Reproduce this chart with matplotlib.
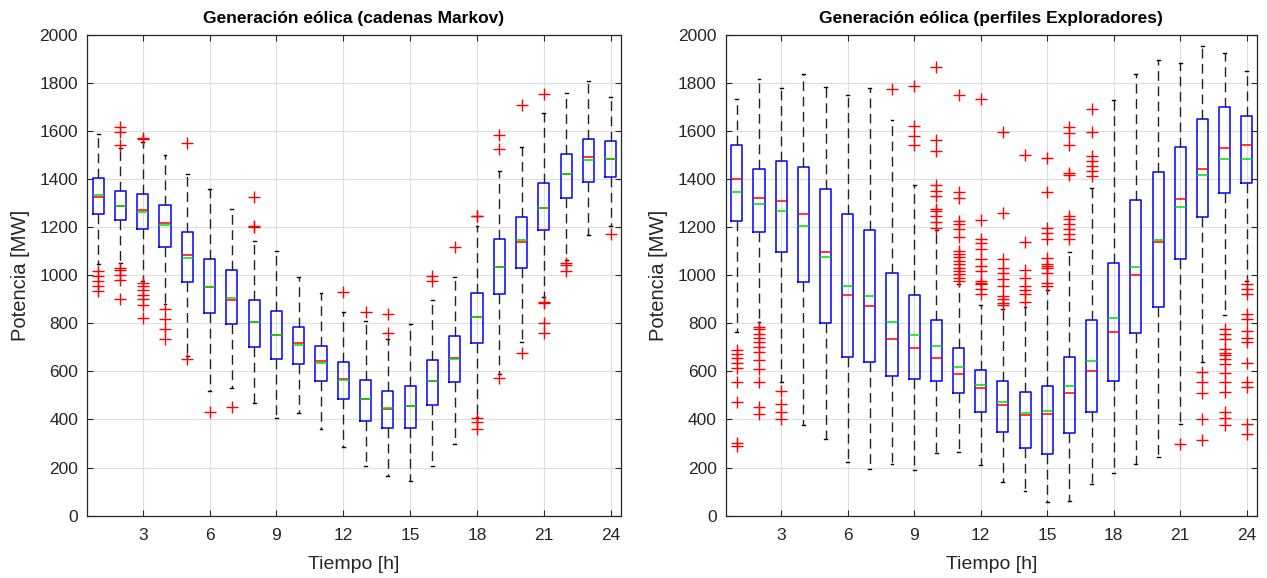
import matplotlib
matplotlib.use("Agg")
import matplotlib.pyplot as plt

plt.rcParams['font.family'] = ['Liberation Sans', 'DejaVu Sans']

hours = list(range(1, 25))
xticks = [3, 6, 9, 12, 15, 18, 21, 24]
yticks = list(range(0, 2001, 200))

# --- Cadenas de Markov ---
mk_q1 = [1253, 1229, 1193, 1117, 972, 842, 796, 703, 653, 630, 561, 484,
         392, 363, 364, 461, 556, 717, 920, 1031, 1188, 1322, 1387, 1409]
mk_med = [1326, 1287, 1271, 1215, 1085, 951, 897, 806, 752, 717, 641, 570,
          487, 443, 454, 561, 657, 824, 1035, 1138, 1277, 1419, 1492, 1484]
mk_q3 = [1402, 1349, 1338, 1291, 1181, 1066, 1020, 896, 850, 786, 706, 639,
         565, 519, 537, 648, 745, 925, 1149, 1241, 1384, 1502, 1564, 1557]
mk_mean = [1333, 1287, 1262, 1207, 1073, 951, 905, 806, 752, 710, 634, 565,
           487, 446, 454, 561, 653, 824, 1035, 1145, 1277, 1419, 1478, 1484]
mk_wlo = [1046, 1052, 976, 879, 662, 519, 531, 468, 408, 426, 360, 284,
          208, 166, 145, 208, 298, 411, 588, 720, 907, 1063, 1167, 1203]
mk_whi = [1585, 1529, 1553, 1500, 1419, 1356, 1276, 1142, 1100, 992, 925, 847,
          810, 736, 797, 896, 992, 1204, 1434, 1534, 1672, 1755, 1806, 1741]
mk_out = [
    [1017, 998, 977, 956, 935],
    [1617, 1594, 1539, 1031, 1022, 1000, 979, 902],
    [1571, 1567, 969, 955, 938, 919, 900, 876, 821],
    [858, 817, 775, 736],
    [1547, 653],
    [432],
    [451],
    [1326, 1204, 1201],
    [],
    [],
    [],
    [930],
    [848],
    [837, 761],
    [],
    [997, 976],
    [1117],
    [1246, 1244, 408, 388, 360],
    [1583, 1526, 574],
    [1709, 678],
    [1751, 889, 883, 800, 759],
    [1052, 1041, 1017],
    [],
    [1170],
]

# --- Perfiles Exploradores ---
ex_q1 = [1225, 1181, 1096, 972, 799, 660, 637, 579, 570, 561, 512, 432,
         349, 280, 256, 343, 429, 561, 761, 869, 1066, 1241, 1343, 1382]
ex_med = [1399, 1322, 1309, 1253, 1095, 916, 871, 734, 697, 657, 588, 529,
          461, 419, 422, 508, 602, 764, 1001, 1138, 1315, 1439, 1529, 1539]
ex_q3 = [1540, 1439, 1474, 1451, 1358, 1253, 1189, 1010, 916, 813, 695, 606,
         558, 516, 537, 660, 814, 1052, 1312, 1427, 1534, 1650, 1700, 1661]
ex_mean = [1344, 1294, 1265, 1204, 1077, 955, 913, 803, 750, 706, 620, 545,
           473, 425, 436, 540, 642, 821, 1032, 1145, 1284, 1416, 1481, 1481]
ex_wlo = [762, 803, 554, 376, 318, 224, 195, 215, 190, 259, 263, 210,
          138, 101, 58, 62, 130, 176, 215, 246, 383, 637, 835, 976]
ex_whi = [1733, 1816, 1776, 1834, 1782, 1747, 1779, 1645, 1376, 1189, 962, 875,
          861, 869, 938, 1098, 1361, 1726, 1834, 1893, 1882, 1954, 1925, 1848]
ex_out = [
    [689, 671, 654, 634, 614, 555, 472, 304, 288],
    [786, 775, 755, 737, 720, 700, 682, 649, 610, 557, 451, 423],
    [519, 464, 430, 402],
    [],
    [],
    [],
    [],
    [1772],
    [1786, 1620, 1578, 1540],
    [1864, 1563, 1517, 1376, 1351, 1329, 1274, 1267, 1246, 1221, 1197],
    [1748, 1347, 1322, 1225, 1211, 1190, 1159, 1099, 1088, 1074, 1060, 1046,
     1031, 1018, 1004, 988, 974],
    [1730, 1230, 1149, 1135, 1107, 1066, 1038, 1017, 976, 969, 962, 941, 920],
    [1596, 1260, 1066, 1031, 1010, 983, 955, 913, 900, 886, 875],
    [1498, 1138, 1021, 990, 955, 938, 920, 889],
    [1488, 1347, 1197, 1176, 1149, 1069, 1048, 1038, 1031, 1010, 969, 955],
    [1617, 1592, 1539, 1423, 1418, 1246, 1232, 1211, 1190, 1170, 1149],
    [1691, 1596, 1495, 1474, 1453, 1433, 1412],
    [],
    [],
    [],
    [300],
    [598, 556, 512, 401, 314],
    [778, 754, 734, 692, 678, 667, 651, 630, 592, 554, 515, 432, 408, 377],
    [962, 941, 920, 838, 817, 768, 740, 720, 633, 554, 533, 381, 340],
]


def make_stats(q1, med, q3, mean, wlo, whi, out):
    stats = []
    for i in range(len(q1)):
        stats.append({'q1': q1[i], 'med': med[i], 'q3': q3[i], 'mean': mean[i],
                      'whislo': wlo[i], 'whishi': whi[i], 'fliers': out[i]})
    return stats


def draw_panel(ax, stats, title):
    ax.bxp(stats, positions=hours, widths=0.5, capwidths=0.13,
           showmeans=True, meanline=True, manage_ticks=False,
           boxprops=dict(color='#0000ff', lw=1.1),
           medianprops=dict(color='#ff0000', lw=1.1),
           meanprops=dict(color='#00e000', lw=1.1, ls='-'),
           whiskerprops=dict(color='#222222', lw=1.0, ls=(0, (7, 4))),
           capprops=dict(color='black', lw=1.0),
           flierprops=dict(marker='+', markeredgecolor='#ff0000',
                           markersize=9, markeredgewidth=1.0, ls='none'))
    ax.set_xlim(0.5, 24.45)
    ax.set_ylim(0, 2000)
    ax.set_xticks(xticks)
    ax.set_yticks(yticks)
    ax.grid(True, color='#dedede', lw=0.8)
    ax.set_axisbelow(True)
    ax.tick_params(direction='in', top=True, right=True, length=4,
                   labelsize=12.5, colors='#262626', labelcolor='#262626')
    ax.tick_params(axis='x', pad=9)
    ax.tick_params(axis='y', pad=6.5)
    for s in ax.spines.values():
        s.set_color('#262626')
        s.set_linewidth(0.9)
    ax.set_xlabel('Tiempo [h]', fontsize=14, color='#262626', labelpad=9)
    ax.set_ylabel('Potencia [MW]', fontsize=14.5, color='#262626', labelpad=7)
    ax.set_title(title, fontsize=12.5, fontweight='bold', color='black', pad=8)


fig = plt.figure(figsize=(12.67, 5.78), dpi=100)
ax1 = fig.add_axes([0.0687, 0.1078, 0.4212, 0.8325])
ax2 = fig.add_axes([0.5728, 0.1078, 0.4191, 0.8325])

draw_panel(ax1, make_stats(mk_q1, mk_med, mk_q3, mk_mean, mk_wlo, mk_whi, mk_out),
           'Generación eólica (cadenas Markov)')
draw_panel(ax2, make_stats(ex_q1, ex_med, ex_q3, ex_mean, ex_wlo, ex_whi, ex_out),
           'Generación eólica (perfiles Exploradores)')

fig.savefig('out.png', dpi=100)
